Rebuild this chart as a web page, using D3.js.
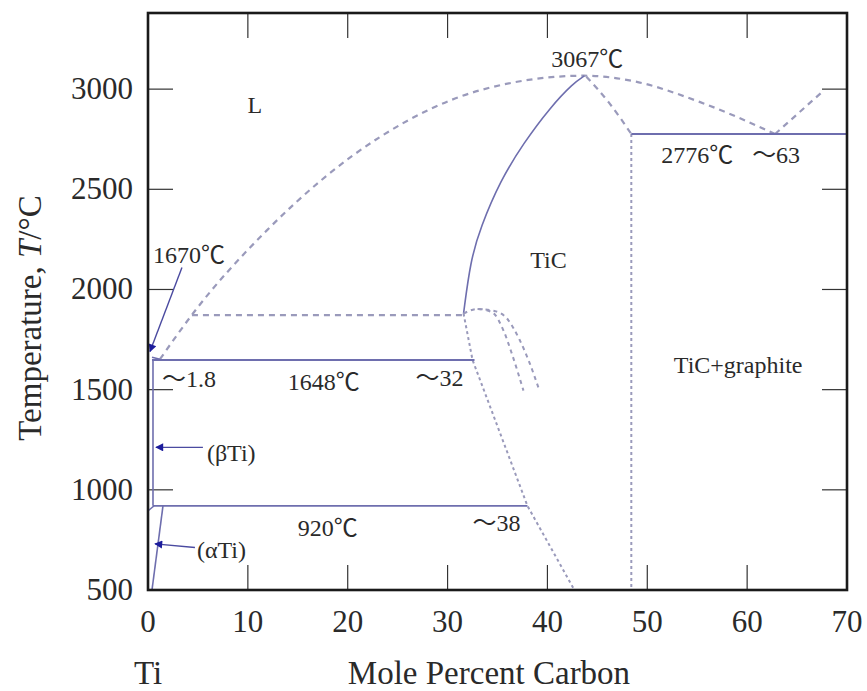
<!DOCTYPE html>
<head>
    <meta charset="utf-8" />
    <script src="https://d3js.org/d3.v7.min.js"></script>
    <style>
        body { margin: 0; background: #fff; }
        text { font-family: "Liberation Serif", "Noto Sans CJK JP", serif; fill: #2a2a2a; }
    </style>
    <title>Ti-C</title>
</head>
<body>
<script>
    // phase boundaries, [mole % C, T in °C]
    var liquidusLeft = [[1.2, 1652], [4.5, 1880], [11.9, 2295], [23.2, 2760], [33.3, 2995], [43.7, 3067],
        [48.6, 3040], [55.3, 2935], [62.8, 2776]];
    var liquidusRight = [[62.8, 2776], [67.6, 2990]];
    var ticLeft = [[31.6, 1880], [32.3, 2145], [33.3, 2310], [35.3, 2545], [37.6, 2730], [40.3, 2910], [42.6, 3030], [43.7, 3066]];
    var ticRight = [[43.9, 3062], [46.2, 2930], [48.4, 2776]];
    var ticRightLow = [[48.4, 2776], [48.4, 500]];
    var ticLow = [[31.6, 1880], [32.5, 1648], [38.0, 920], [42.7, 500]];
    var domeA = [[31.6, 1880], [33.0, 1903], [34.5, 1885], [35.6, 1795], [36.5, 1670], [37.6, 1495]];
    var domeB = [[33.0, 1903], [34.7, 1893], [35.9, 1858], [37.2, 1750], [38.2, 1635], [39.1, 1510]];
    var betaSolvus = [[0.5, 1648], [0.5, 920]];
    var alphaSolvus = [[1.5, 920], [0.4, 500]];
    var alphaCorner = [[0, 895], [0.6, 920]];
    var liqStart = [[0.4, 1662], [1.2, 1652]];
    // horizontal lines: [x1, x2, T]
    var solidH = [[0.4, 32.7, 1648], [0.5, 38.0, 920], [48.4, 70, 2776]];
    var dashedH = [[4.4, 31.6, 1872]];
    // arrows: [x from, T from, x to, T to]
    var arrows = [[3.4, 2110, 0.2, 1690], [5.5, 1212, 0.8, 1212], [4.7, 712, 0.7, 730]];
    var labelText = ["L", "3067℃", "2776℃", "～63", "TiC", "TiC+graphite", "1670℃", "～1.8", "1648℃", "～32", "920℃", "～38", "(βTi)", "(αTi)"];
    var labelX = [10.7, 44.0, 51.4, 60.5, 40.1, 59.1, 0.5, 1.4, 14.0, 26.8, 15.0, 32.5, 5.9, 4.9];
    var labelT = [2880, 3110, 2630, 2630, 2105, 1585, 2130, 1515, 1500, 1520, 770, 795, 1145, 660];
    var labelAnchor = ["middle", "middle", "start", "start", "middle", "middle", "start", "start", "start", "start", "start", "start", "start", "start"];
    var xTicks = [0, 10, 20, 30, 40, 50, 60, 70];
    var yTicks = [500, 1000, 1500, 2000, 2500, 3000];

    var width = 867, height = 691;
    var svg = d3.select("body").append("svg").attr("width", width).attr("height", height);

    var x = d3.scaleLinear().domain([0, 70]).range([148, 847]);
    var y = d3.scaleLinear().domain([500, 3380]).range([590, 13]);

    var defs = svg.append("defs");
    defs.append("marker").attr("id", "head")
        .attr("viewBox", "0 0 10 10").attr("refX", 9).attr("refY", 5)
        .attr("markerWidth", 10).attr("markerHeight", 8).attr("markerUnits", "userSpaceOnUse")
        .attr("orient", "auto")
        .append("path").attr("d", "M0,0L10,5L0,10z").attr("fill", "#1c1c9c");

    // ticks inside on all four sides
    var tickLen = 25;
    var g = svg.append("g").attr("stroke", "#333").attr("stroke-width", 1.2);
    xTicks.slice(1, -1).forEach(function (t) {
        g.append("line").attr("x1", x(t)).attr("x2", x(t)).attr("y1", 590).attr("y2", 590 - tickLen);
        g.append("line").attr("x1", x(t)).attr("x2", x(t)).attr("y1", 13).attr("y2", 13 + tickLen);
    });
    yTicks.slice(1).forEach(function (t) {
        g.append("line").attr("x1", 148).attr("x2", 148 + tickLen).attr("y1", y(t)).attr("y2", y(t));
        g.append("line").attr("x1", 847).attr("x2", 847 - tickLen).attr("y1", y(t)).attr("y2", y(t));
    });

    svg.selectAll(".xl").data(xTicks).join("text")
        .attr("x", d => x(d)).attr("y", 632).attr("text-anchor", "middle")
        .attr("font-size", 31).text(d => d);
    svg.selectAll(".yl").data(yTicks).join("text")
        .attr("x", 133).attr("y", d => y(d) + 10).attr("text-anchor", "end")
        .attr("font-size", 31).text(d => d);

    svg.append("text").attr("x", 148).attr("y", 684).attr("text-anchor", "middle").attr("font-size", 33).text("Ti");
    svg.append("text").attr("x", 489).attr("y", 684).attr("text-anchor", "middle").attr("font-size", 33).text("Mole Percent Carbon");
    var yt = svg.append("text").attr("transform", "translate(41,318) rotate(-90)")
        .attr("text-anchor", "middle").attr("font-size", 33);
    yt.append("tspan").text("Temperature, ");
    yt.append("tspan").attr("font-style", "italic").text("T");
    yt.append("tspan").text("/°C");

    var line = d3.line().x(d => x(d[0])).y(d => y(d[1]));
    var smooth = d3.line().x(d => x(d[0])).y(d => y(d[1])).curve(d3.curveMonotoneX);
    var natural = d3.line().x(d => x(d[0])).y(d => y(d[1])).curve(d3.curveBasis);

    var solid = "#6e6eae", dash = "#9a9abb";

    function draw(pts, gen, color, dasharray, w) {
        svg.append("path").attr("d", gen(pts)).attr("fill", "none")
            .attr("stroke", color).attr("stroke-width", w || 1.8)
            .attr("stroke-dasharray", dasharray || null);
    }

    draw(liquidusLeft, smooth, dash, "6,5", 2.2);
    draw(liquidusRight, line, dash, "6,5", 2.2);
    draw(liqStart, line, solid, null, 1.4);
    draw(ticLeft, natural, solid, null, 1.6);
    draw(ticRight, smooth, dash, "6,5", 2.2);
    draw(ticRightLow, line, dash, "3,3", 2);
    draw(ticLow, line, dash, "3,3", 2);
    draw(domeA, smooth, dash, "4,4", 2);
    draw(domeB, smooth, dash, "4,4", 2);
    draw(betaSolvus, line, solid, null, 1.6);
    draw(alphaSolvus, line, solid, null, 1.6);
    draw(alphaCorner, line, solid, null, 1.4);
    solidH.forEach(h => draw([[h[0], h[2]], [h[1], h[2]]], line, solid, null, 1.8));
    dashedH.forEach(h => draw([[h[0], h[2]], [h[1], h[2]]], line, dash, "6,5", 2.2));

    arrows.forEach(function (a) {
        svg.append("line").attr("x1", x(a[0])).attr("y1", y(a[1])).attr("x2", x(a[2])).attr("y2", y(a[3]))
            .attr("stroke", "#4a4aa0").attr("stroke-width", 1.4).attr("marker-end", "url(#head)");
    });

    svg.selectAll(".lab").data(labelText).join("text")
        .attr("x", (d, i) => x(labelX[i])).attr("y", (d, i) => y(labelT[i]))
        .attr("text-anchor", (d, i) => labelAnchor[i])
        .attr("font-size", 24).text(d => d);

    // frame
    svg.append("rect").attr("x", 148).attr("y", 13).attr("width", 699).attr("height", 577)
        .attr("fill", "none").attr("stroke", "#1a1a1a").attr("stroke-width", 2.6);
</script>
</body>
